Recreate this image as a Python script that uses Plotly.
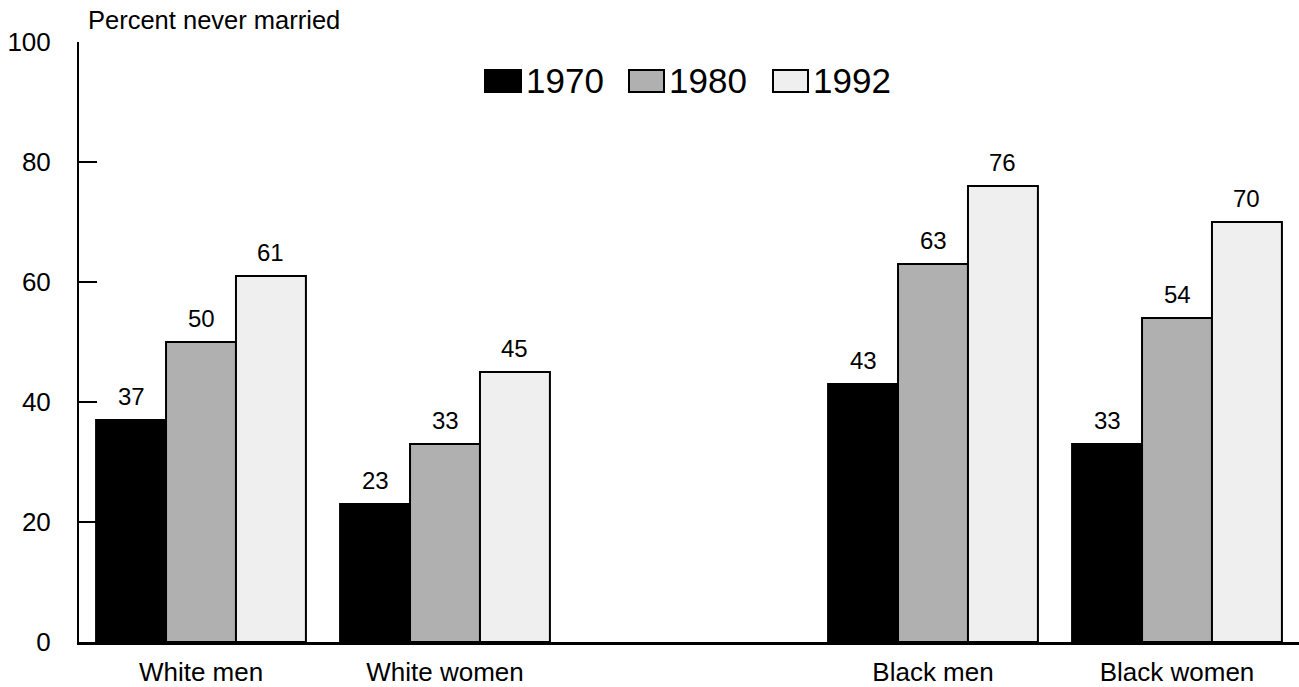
import plotly.graph_objects as go

# ---- data ----
groups = ["White men", "White women", "Black men", "Black women"]
axis_categories = ["White men", "White women", " ", "Black men", "Black women"]
years = ["1970", "1980", "1992"]
v1970 = [37, 23, 43, 33]
v1980 = [50, 33, 63, 54]
v1992 = [61, 45, 76, 70]
y_ticks = [0, 20, 40, 60, 80, 100]
y_title = "Percent never married"

series = [v1970, v1980, v1992]
colors = ["#000000", "#b0b0b0", "#efefef"]

FONT = "Liberation Sans, Arial, Helvetica, sans-serif"
W, H = 1299, 687
ML, MR, MT, MB = 79, 0, 42, 45
BARGAP = 0.14

fig = go.Figure()
for name, vals, col in zip(years, series, colors):
    fig.add_trace(go.Bar(
        x=groups, y=vals, name=name,
        marker=dict(color=col, line=dict(color="#000000", width=2)),
        showlegend=False,
    ))

# value labels above bars
annotations = []
bw = (1 - BARGAP) / len(series)
for si, vals in enumerate(series):
    for g, v in zip(groups, vals):
        idx = axis_categories.index(g)
        annotations.append(dict(
            x=idx + (si - 1) * bw, y=v, xref="x", yref="y",
            text=str(v), showarrow=False, yanchor="bottom", yshift=8,
            font=dict(family=FONT, size=24, color="#000000"),
        ))

pw = W - ML - MR
ph = H - MT - MB
def px2x(px):
    return (px - ML) / pw
def py2y(py):
    return (H - MB - py) / ph

# y-axis title
annotations.append(dict(
    x=px2x(86), y=py2y(20), xref="paper", yref="paper",
    text=y_title, showarrow=False, xanchor="left", yanchor="middle",
    font=dict(family=FONT, size=25.5, color="#000000"),
))

# custom legend (large swatches)
shapes = []
leg_boxes = [(485, 521), (629, 664), (773, 808)]
for (x0, x1), name, col in zip(leg_boxes, years, colors):
    shapes.append(dict(
        type="rect", xref="paper", yref="paper",
        x0=px2x(x0), x1=px2x(x1), y0=py2y(92), y1=py2y(70),
        fillcolor=col, line=dict(color="#000000", width=2),
    ))
    annotations.append(dict(
        x=px2x(x1 + 3), y=py2y(81), xref="paper", yref="paper",
        text=name, showarrow=False, xanchor="left", yanchor="middle",
        font=dict(family=FONT, size=35, color="#000000"),
    ))

fig.update_layout(
    width=W, height=H,
    margin=dict(l=ML, r=MR, t=MT, b=MB, pad=0, autoexpand=False),
    paper_bgcolor="#ffffff", plot_bgcolor="#ffffff",
    barmode="group", bargap=BARGAP, bargroupgap=0,
    font=dict(family=FONT, size=24, color="#000000"),
    annotations=annotations, shapes=shapes,
    showlegend=False,
)
fig.update_xaxes(
    type="category", categoryorder="array", categoryarray=axis_categories,
    range=[-0.5, len(axis_categories) - 0.5], automargin=False,
    showline=True, linecolor="#000000", linewidth=3,
    showgrid=False, ticks="", zeroline=False,
    tickfont=dict(family=FONT, size=26, color="#000000"),
    ticklabelstandoff=5,
)
fig.update_yaxes(
    range=[0, 100], tickvals=y_ticks, ticktext=[str(t) for t in y_ticks],
    automargin=False,
    showline=True, linecolor="#000000", linewidth=2,
    showgrid=False, zeroline=False,
    ticks="inside", ticklen=18, tickwidth=2, tickcolor="#000000",
    tickfont=dict(family=FONT, size=26, color="#000000"),
    ticklabelstandoff=21,
)

fig.write_html(
    "out.html",
    config={"displayModeBar": False},
    post_script="document.body.style.margin='0';document.body.style.overflow='hidden';",
)
